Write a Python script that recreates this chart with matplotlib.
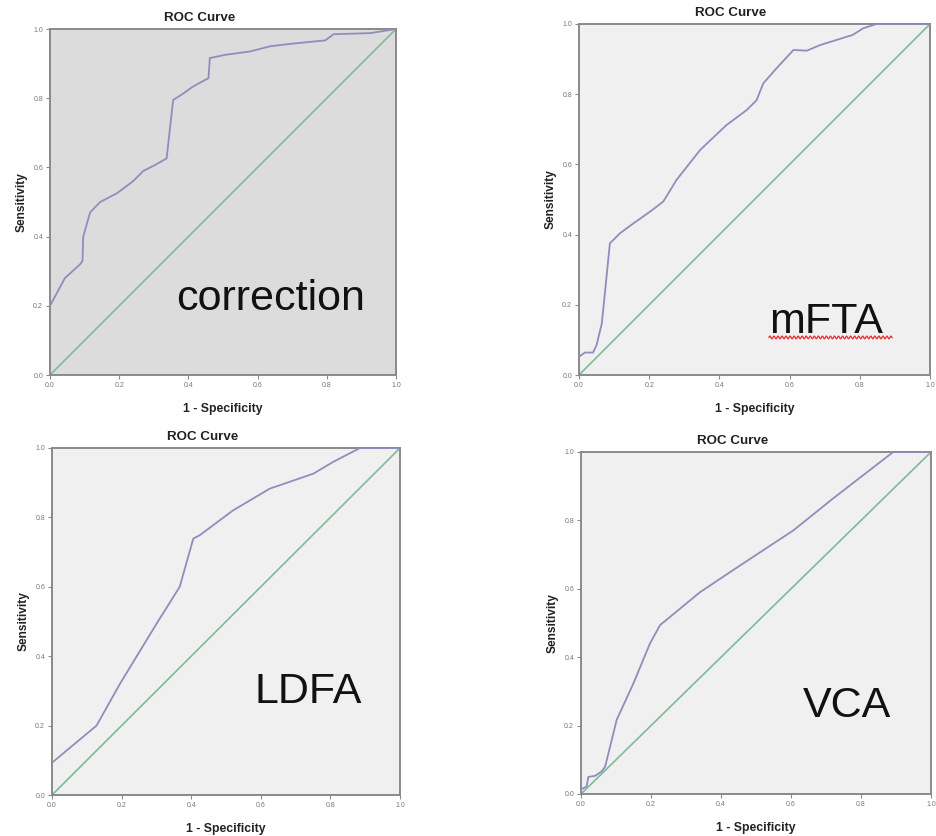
import numpy as np
import matplotlib
matplotlib.use("Agg")
import matplotlib.pyplot as plt

plt.rcParams['font.family'] = ['Liberation Sans', 'DejaVu Sans']

# ---- data ----
labels = ["correction", "mFTA", "LDFA", "VCA"]

fpr_correction = [0.0, 0.043, 0.087, 0.094, 0.096, 0.116, 0.145, 0.193, 0.24, 0.27, 0.30, 0.337,
                  0.356, 0.38, 0.414, 0.458, 0.462, 0.51, 0.578, 0.636, 0.694, 0.795, 0.82, 0.925, 1.0]
tpr_correction = [0.20, 0.28, 0.32, 0.33, 0.40, 0.47, 0.50, 0.525, 0.56, 0.59, 0.605, 0.626,
                  0.795, 0.81, 0.834, 0.858, 0.916, 0.926, 0.935, 0.95, 0.957, 0.967, 0.985, 0.988, 1.0]

fpr_mfta = [0.0, 0.017, 0.04, 0.05, 0.065, 0.088, 0.117, 0.155, 0.202, 0.24, 0.278, 0.345, 0.42,
            0.478, 0.506, 0.525, 0.563, 0.611, 0.649, 0.687, 0.78, 0.81, 0.848, 1.0]
tpr_mfta = [0.052, 0.064, 0.064, 0.085, 0.147, 0.375, 0.404, 0.432, 0.465, 0.494, 0.556, 0.641, 0.712,
            0.755, 0.783, 0.831, 0.874, 0.926, 0.924, 0.94, 0.969, 0.988, 1.0, 1.0]

fpr_ldfa = [0.0, 0.128, 0.195, 0.30, 0.367, 0.406, 0.425, 0.52, 0.626, 0.751, 0.808, 0.885, 1.0]
tpr_ldfa = [0.093, 0.20, 0.32, 0.493, 0.60, 0.739, 0.749, 0.82, 0.883, 0.926, 0.96, 1.0, 1.0]

fpr_vca = [0.0, 0.016, 0.021, 0.04, 0.059, 0.069, 0.102, 0.15, 0.197, 0.226, 0.34, 0.435, 0.607, 0.72, 0.892, 1.0]
tpr_vca = [0.013, 0.022, 0.05, 0.053, 0.066, 0.08, 0.217, 0.324, 0.44, 0.494, 0.59, 0.655, 0.771, 0.864, 1.0, 1.0]

ref_line = [0.0, 1.0]
tick_vals = [0.0, 0.2, 0.4, 0.6, 0.8, 1.0]
tick_labels = ["0.0", "0.2", "0.4", "0.6", "0.8", "1.0"]

series = [(fpr_correction, tpr_correction), (fpr_mfta, tpr_mfta),
          (fpr_ldfa, tpr_ldfa), (fpr_vca, tpr_vca)]

# ---- layout / style ----
W, H = 937, 836
fig = plt.figure(figsize=(W / 100, H / 100), dpi=100)
fig.patch.set_facecolor("white")

boxes_px = [(50, 29, 396, 375), (579, 24, 930, 375), (52, 448, 400, 795), (581, 452, 931, 794)]
facecolors = ["#dcdcdc", "#f0f0f0", "#f0f0f0", "#f0f0f0"]
label_pos = [(0.364, 0.188), (0.541, 0.12), (0.583, 0.265), (0.634, 0.225)]

roc_color = "#8e8ebc"
diag_color = "#7dba9a"
spine_color = "#8a8a8a"

for i, (fx, ty) in enumerate(series):
    l, t, r, b = boxes_px[i]
    ax = fig.add_axes([l / W, (H - b) / H, (r - l) / W, (b - t) / H])
    ax.set_facecolor(facecolors[i])
    ax.plot(ref_line, ref_line, color=diag_color, lw=1.2, zorder=2)
    ax.plot(fx, ty, color=roc_color, lw=1.3, zorder=3)
    ax.set_xlim(0, 1)
    ax.set_ylim(0, 1)
    ax.set_xticks(tick_vals)
    ax.set_yticks(tick_vals)
    ax.set_xticklabels(tick_labels)
    ax.set_yticklabels(tick_labels)
    ax.tick_params(direction="out", length=3, width=0.8, colors=spine_color,
                   labelsize=5, labelcolor="#777777", pad=2)
    for s in ax.spines.values():
        s.set_color(spine_color)
        s.set_linewidth(1.4)
    ax.set_xlabel("1 - Specificity", fontsize=8.8, fontweight="bold", color="#222222", labelpad=10)
    ax.set_ylabel("Sensitivity", fontsize=8.6, fontweight="bold", color="#222222", labelpad=4)
    ax.text(0.433, 1.0 + 11 / (b - t), "ROC Curve", transform=ax.transAxes, ha="center",
            va="center", fontsize=9.6, fontweight="bold", color="#222222")
    lx, ly = label_pos[i]
    ax.text(lx, ly, labels[i], ha="left", va="baseline", fontsize=31, color="#111111", zorder=4)
    if labels[i] == "mFTA":
        # spell-check style wavy underline (decoration)
        wx = np.linspace(0.541, 0.892, 200)
        wy = 0.107 + 0.004 * np.sin((wx - 0.541) / 0.0115 * 2 * np.pi)
        ax.plot(wx, wy, color="#e03030", lw=0.9, zorder=4, clip_on=False)

fig.savefig("out.png", dpi=100, facecolor="white")
